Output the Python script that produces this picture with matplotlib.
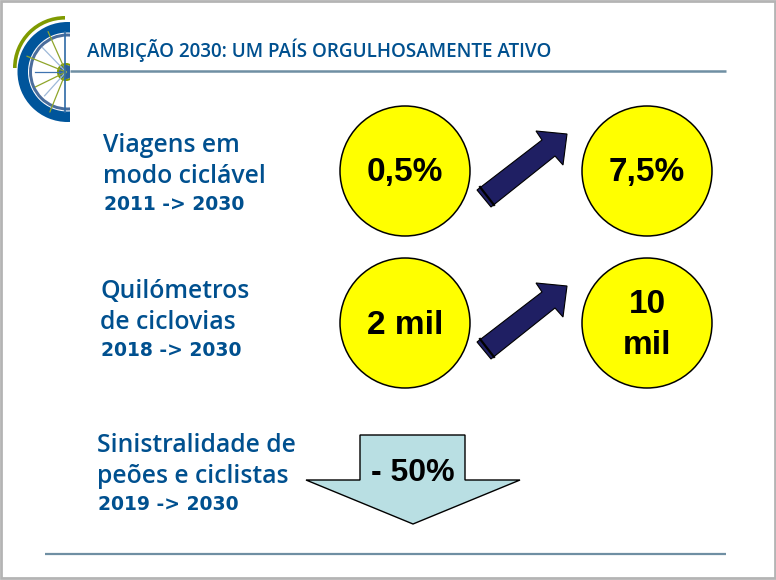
import matplotlib
matplotlib.use('Agg')
import numpy as np
import matplotlib.pyplot as plt
from matplotlib.patches import Circle, Polygon, Rectangle, Wedge

title = 'AMBIÇÃO 2030: UM PAÍS ORGULHOSAMENTE ATIVO'
headings = ['Viagens em\nmodo ciclável', 'Quilómetros\nde ciclovias', 'Sinistralidade de\npeões e ciclistas']
periods = ['2011 -> 2030', '2018 -> 2030', '2019 -> 2030']
start_values = ['0,5%', '2 mil']
end_values = ['7,5%', '10\nmil']
drop_label = '- 50%'

blue = '#00508f'
fig = plt.figure(figsize=(7.76, 5.8), dpi=100, facecolor='white')
ax = fig.add_axes([0, 0, 1, 1])
ax.set_xlim(0, 776)
ax.set_ylim(580, 0)
ax.axis('off')

# slide frame
ax.add_patch(Rectangle((1, 1), 773.5, 577, fill=False, ec='#b4b4b4', lw=2))

# header and footer rules
ax.plot([70, 726], [70.5, 70.5], color='#6f8fa3', lw=1.8, solid_capstyle='butt')
ax.plot([45, 726], [553.5, 553.5], color='#6f8fa3', lw=1.6, solid_capstyle='butt')

# half wheel logo, y axis is inverted so angles run clockwise
cx, cy = 66, 72
wheel_clip = Rectangle((0, 0), 70, 580, transform=ax.transData)
ax.add_patch(Wedge((65, 68), 52, 180, 270, width=3.6, fc='#7f9a00', ec='none'))
for r, w, c in [(50, 10.5, '#00559b'), (38.5, 3, '#4a6d9c')]:
    rim = Wedge((67.5, cy), r, 0, 360, width=w, fc=c, ec='none')
    ax.add_patch(rim)
    rim.set_clip_path(wheel_clip)
spoke_angles = [114, 134, 158, 180, 206, 228, 248]
spoke_lengths = [44, 34, 42, 31, 34, 32, 43]
spoke_colors = ['#8fa52a', '#9db8d8', '#8fa52a', '#3f74b0', '#8fa52a', '#9db8d8', '#8fa52a']
for a, l, c in zip(spoke_angles, spoke_lengths, spoke_colors):
    t = np.deg2rad(a)
    ax.plot([cx, cx + l * np.cos(t)], [cy, cy - l * np.sin(t)], color=c, lw=0.9)
ax.plot([65, 65], [32, 112], color='#2d6aa5', lw=1.2)
hub = Wedge((cx, cy), 9, 0, 360, width=2, fc='#7f9a00', ec='none')
hub_in = Wedge((cx, cy), 7, 0, 360, fc='#2b5f97', ec='none')
for p in (hub, hub_in):
    ax.add_patch(p)
    p.set_clip_path(wheel_clip)

ax.text(87, 50, title, color=blue, fontsize=13.6, family='Open Sans', fontweight='semibold', va='center')

# row headings
head_x = [103, 100, 97]
head_y = [161, 307, 461]
period_y = [204, 351, 504]
for x, y, h, yp, p in zip(head_x, head_y, headings, period_y, periods):
    ax.text(x, y, h, color=blue, fontsize=17.8, family='Open Sans', fontweight='semibold',
            va='center', linespacing=1.28)
    ax.text(x + 1, yp, p, color=blue, fontsize=13.5, family='DejaVu Sans', fontweight='bold', va='center')

# circles and arrows
row_y = [171, 323]
arrow = np.array([[477, 190], [542, 140], [536, 131], [567, 134], [563, 165], [555, 156], [491, 207]])
for y, v0, v1 in zip(row_y, start_values, end_values):
    for x, v in zip([405, 647], [v0, v1]):
        ax.add_patch(Circle((x, y), 65, fc='#ffff00', ec='black', lw=1.1))
        ax.text(x, y + 2, v, color='black', fontsize=24, family='Liberation Sans', fontweight='bold',
                ha='center', va='center', linespacing=1.38)
    off = np.array([0, y - row_y[0]])
    ax.add_patch(Polygon(arrow + off, fc='#1f1f63', ec='black', lw=0.8))
    ax.plot(*zip(*(np.array([[480, 187], [494, 205]]) + off)), color='black', lw=1.6)

# down arrow
drop = [[360, 435], [465, 435], [465, 480], [520, 480], [413, 524], [306, 480], [360, 480]]
ax.add_patch(Polygon(drop, fc='#b9dfe3', ec='black', lw=1))
ax.text(413, 473, drop_label, color='black', fontsize=23, family='Liberation Sans', fontweight='bold',
        ha='center', va='center')

fig.savefig('out.png', dpi=100)
